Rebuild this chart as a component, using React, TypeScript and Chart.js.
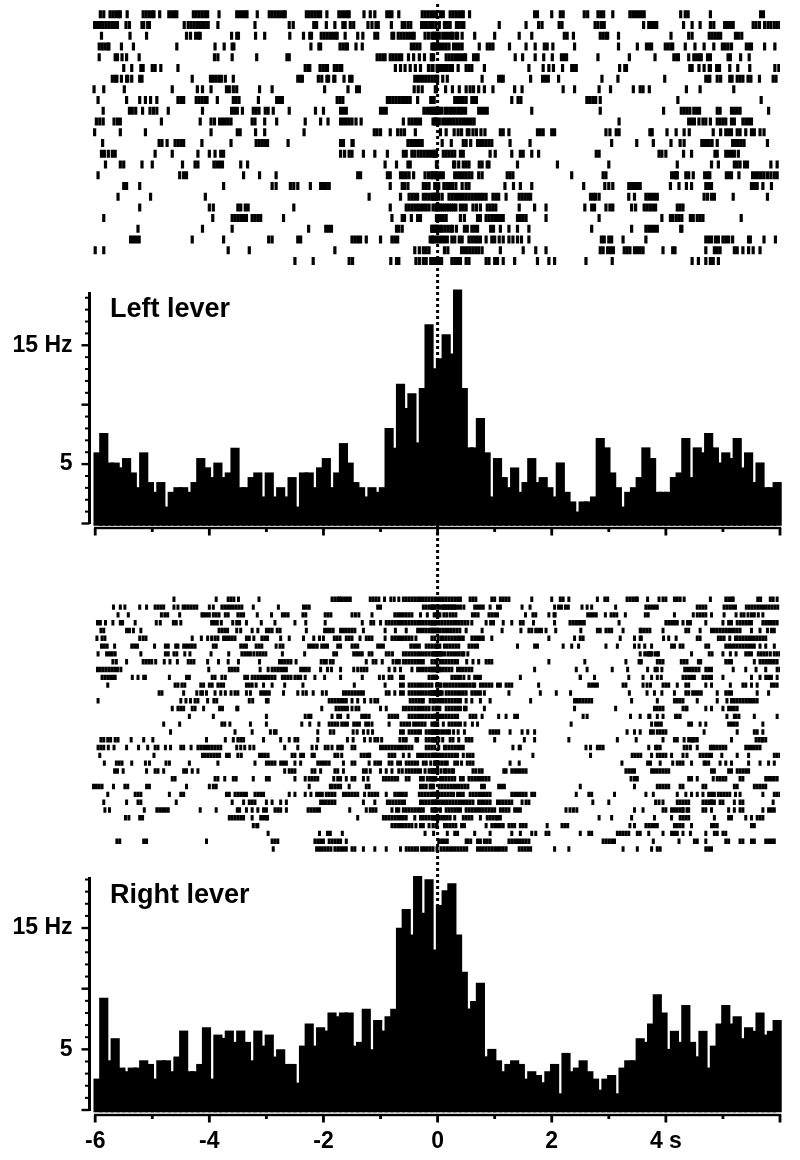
import React, { useEffect, useRef } from "react";
import { Chart, registerables } from "chart.js";

Chart.register(...registerables);

// Firing rate (Hz) in 0.1 s bins, from -6 s to +6 s
const leftRate = [
  5.96, 7.58, 5.1, 5.1, 4.7, 5.48, 4.27, 3.03, 5.96, 3.46, 2.64, 3.46, 1.4, 2.64, 3.03, 3.03, 2.64, 3.46, 5.48, 4.7,
  3.88, 5.1, 3.88, 4.27, 6.35, 3.03, 3.03, 3.88, 4.27, 2.25, 4.27, 2.25, 3.03, 2.25, 3.88, 1.4, 4.27, 4.27, 3.03, 4.7,
  5.48, 3.03, 4.27, 6.74, 5.1, 3.46, 3.03, 2.25, 3.03, 2.64, 3.03, 8.0, 6.35, 11.74, 9.69, 10.93, 6.8, 11.38, 16.74, 13.03,
  13.88, 15.9, 14.27, 19.66, 11.38, 6.38, 6.38, 8.85, 5.96, 2.25, 5.48, 3.88, 3.03, 4.69, 2.64, 3.46, 5.48, 3.46, 3.88, 3.03,
  2.25, 5.11, 2.64, 1.83, 0.98, 1.83, 1.83, 2.25, 7.16, 6.38, 4.27, 3.03, 1.4, 2.64, 3.03, 3.88, 6.38, 5.48, 2.64, 2.64,
  2.64, 3.88, 4.27, 7.16, 3.88, 6.38, 5.96, 7.58, 6.38, 5.11, 5.96, 5.48, 7.16, 4.69, 5.96, 3.46, 5.11, 3.03, 3.03, 3.46,
];
const rightRate = [
  2.56, 9.22, 4.07, 5.89, 3.47, 3.17, 3.47, 3.47, 4.07, 3.77, 2.56, 4.07, 4.07, 3.17, 4.38, 6.52, 3.17, 3.17, 3.77, 6.8,
  2.56, 6.19, 5.92, 6.52, 5.59, 6.52, 5.59, 4.07, 6.52, 5.28, 6.19, 4.38, 4.98, 3.77, 3.77, 2.23, 5.28, 7.1, 5.28, 6.8,
  6.52, 8.0, 7.7, 8.0, 8.0, 5.28, 5.59, 8.31, 4.98, 7.4, 6.52, 7.7, 8.31, 15.0, 16.54, 14.45, 19.27, 16.24, 19.0, 13.2,
  16.87, 18.08, 18.66, 14.45, 11.37, 8.34, 8.95, 10.46, 4.4, 5.01, 4.07, 3.17, 3.77, 4.07, 3.77, 2.56, 3.17, 2.86, 2.26, 3.17,
  3.77, 1.35, 4.68, 3.17, 3.47, 4.07, 3.17, 2.56, 1.65, 2.56, 2.86, 1.35, 3.47, 4.07, 4.07, 5.89, 5.59, 7.1, 9.52, 8.01,
  5.01, 6.5, 5.59, 8.62, 5.59, 4.4, 6.5, 3.47, 5.28, 7.1, 8.62, 7.1, 7.7, 5.89, 6.8, 6.5, 8.01, 6.19, 6.5, 7.4,
];

// Spike times per trial, in hundredths of a second relative to the lever press
const spikesLeft = [
  [-591,-585,-574,-569,-564,-559,-556,-544,-516,-511,-506,-501,-497,-487,-471,-466,-461,-457,-428,-423,-418,-413,-408,-403,-383,-352,-347,-342,-337,-334,-316,-295,-290,-285,-280,-275,-270,-267,-230,-225,-220,-215,-210,-205,-194,-173,-168,-163,-158,-155,-129,-118,-110,-89,-84,-80,-68,-27,-22,-17,-12,-7,-2,5,10,22,27,32,37,42,45,56,170,175,200,215,220,257,263,281,286,291,307,337,342,347,352,357,362,426,434,439,478,566,571],
  [-601,-596,-591,-586,-581,-576,-571,-566,-561,-546,-540,-518,-515,-508,-505,-444,-437,-432,-427,-422,-417,-412,-407,-402,-385,-320,-260,-253,-217,-212,-195,-180,-166,-162,-153,-147,-122,-115,-108,-104,-81,-62,-58,-52,-47,-28,-23,-18,-13,-8,-3,3,-10,12,17,22,33,38,43,46,108,155,177,183,213,218,276,281,287,292,361,370,375,380,384,431,446,460,478,484,503,508,513,518,553,558,564,573,579,584,590,595,600],
  [-589,-539,-510,-440,-433,-424,-419,-416,-361,-352,-349,-319,-303,-259,-235,-224,-221,-204,-199,-194,-189,-184,-179,-176,-162,-140,-131,-110,-105,-80,-77,-69,-64,-59,-54,-49,-44,-41,-22,-16,-7,-2,-10,-5,0,3,9,14,19,24,26,32,35,43,65,100,143,165,222,227,238,285,290,295,298,317,409,440,446,476,481,486,491,496,522,527,533],
  [-593,-588,-583,-578,-576,-554,-533,-457,-390,-374,-360,-357,-222,-208,-205,-171,-166,-161,-158,-143,-132,-46,-41,-36,-31,-7,-3,-10,-5,0,5,10,15,20,28,33,38,43,73,87,92,97,126,155,171,187,192,202,240,317,350,366,371,375,399,404,409,412,434,451,467,484,499,504,509,515,541,546,550,573,591],
  [-593,-565,-561,-553,-545,-523,-391,-385,-360,-317,-264,-260,-106,-101,-96,-92,-83,-78,-73,-68,-63,-51,-42,-32,-23,-11,-7,-10,15,20,25,30,35,40,45,49,63,68,71,136,149,171,186,201,217,222,226,281,336,381,414,419,422,440,449,454,459,462,473,478,509,513,531,546],
  [-550,-536,-520,-516,-500,-495,-485,-455,-232,-227,-224,-206,-201,-196,-193,-181,-176,-171,-168,-74,-65,-57,-48,-39,-30,-16,-10,-1,-8,2,7,12,17,22,26,36,50,55,60,82,160,185,195,203,219,235,240,243,319,328,331,442,446,458,467,476,478,489,494,512,526,547,591,598,600],
  [-570,-565,-562,-554,-545,-543,-536,-522,-518,-430,-398,-393,-388,-383,-379,-372,-358,-245,-240,-237,-209,-203,-194,-191,-182,-180,-164,-154,-150,-40,-35,-30,-25,-20,-15,-10,-5,-2,0,9,17,78,107,112,115,163,184,189,194,212,288,316,398,470,475,477,490,496,512,516,525,530,535,544,549,564,588,593],
  [-602,-585,-549,-465,-421,-412,-397,-370,-365,-358,-352,-312,-290,-198,-157,-142,-137,-41,-34,-27,-4,97,-2,14,26,38,50,57,63,72,82,135,148,220,240,283,303,343,355,360,371,436,460,519],
  [-595,-545,-522,-512,-503,-492,-455,-450,-445,-423,-418,-413,-408,-404,-386,-358,-353,-348,-314,-282,-277,-272,-176,-171,-166,-88,-83,-78,-73,-68,-63,-58,-53,-48,-35,-12,-8,-6,30,35,40,45,50,60,64,68,130,141,146,262,267,272,277,262,285,421,567,614],
  [-586,-540,-535,-529,-517,-504,-498,-492,-472,-412,-361,-356,-351,-342,-323,-318,-313,-302,-297,-288,-260,-214,-200,-170,-165,-160,-100,-95,-90,-24,-19,-14,-9,-4,-1,-10,-4,2,7,13,17,22,26,31,36,40,44,49,72,77,82,87,165,285,396,427,432,437,442,449,454,459,490,495,515,520,525,530,580],
  [-598,-592,-586,-567,-561,-556,-484,-416,-397,-391,-382,-377,-372,-367,-362,-325,-320,-303,-282,-232,-205,-192,-170,-165,-160,-155,-150,-143,-134,-60,-50,-45,-40,-35,-30,-5,-1,-8,-3,3,9,14,19,24,29,34,39,44,49,54,59,64,318,440,445,450,458,465,470,478,490,495,500,505,515,520,535,540,545,550],
  [-601,-556,-512,-397,-351,-346,-319,-303,-234,-111,-106,-100,-83,-70,-64,-58,-39,5,15,29,36,42,52,55,62,68,76,83,110,115,125,175,180,185,200,205,295,302,313,318,372,375,376,418,402,432,441,483,496,505,510,515,525,530,540,550,555,565,572],
  [-587,-488,-483,-474,-460,-455,-450,-445,-413,-362,-318,-313,-308,-303,-298,-262,-170,-165,-150,-148,-52,-47,-42,-37,-32,-27,8,24,45,50,58,70,75,80,85,90,95,127,162,305,349,378,409,425,432,463,466,471,476,481,490,517,522,527,532,537,578],
  [-589,-584,-577,-570,-565,-495,-465,-420,-400,-390,-380,-375,-170,-163,-155,-150,-130,-110,-88,-60,-55,-45,-40,-34,-29,-24,-19,-14,-9,-6,-4,-2,10,15,20,25,30,40,45,92,101,130,145,150,165,177,278,283,388,393,400,431,445,486,490,505,510,515,520,527],
  [-582,-556,-550,-518,-500,-447,-425,-420,-392,-387,-382,-377,-345,-333,-92,-72,-52,-48,-2,-1,28,30,37,45,50,55,73,78,87,90,140,210,300,420,480,492,520,525,530,538,543,584,595],
  [-595,-452,-445,-440,-340,-312,-283,-140,-135,-88,-83,-65,-60,-55,-50,-42,-22,-16,-10,-3,-10,-5,-0,5,10,30,35,40,45,50,55,60,72,78,122,127,132,235,420,417,290,295,410,415,419,435,440,448,468,473,477,506,511,515,528,552,557,562,567,572,578,584,590,595],
  [-550,-545,-522,-375,-290,-283,-258,-252,-245,-223,-205,-200,-195,-190,-83,-62,-58,-52,-25,-20,-15,-5,2,-1,11,16,21,26,32,43,50,55,118,133,145,165,256,293,300,307,335,340,345,350,355,408,423,436,445,470,475,480,550,555,560,570,585],
  [-560,-503,-407,-120,-65,-50,-45,-40,-35,-25,-20,-15,-10,-5,-2,-8,-3,2,8,20,25,30,35,40,45,50,55,60,65,70,75,80,85,97,102,107,120,143,148,153,158,163,268,273,277,283,335,345,365,370,375,380,385,467,473,480,485,518,578],
  [-522,-400,-393,-350,-345,-337,-332,-252,-83,-55,-50,-45,-40,-35,-30,-25,-20,-15,-2,-8,-3,2,4,8,12,16,20,24,28,32,40,45,50,62,68,75,87,92,97,102,143,170,190,258,270,275,295,302,307,340,347,362,367,372,377,382,420,425,430],
  [-585,-394,-360,-355,-350,-345,-340,-335,-325,-320,-315,-310,-270,-80,-62,-58,-46,-35,-30,-2,2,6,10,15,40,47,70,75,85,90,95,100,105,110,115,140,145,150,155,190,283,393,408,412,418,423,428,443,448,455,460,465,532],
  [-525,-412,-360,-226,-196,-191,-186,-72,-68,-62,-10,-5,-1,-10,-5,0,5,8,13,18,23,26,33,47,52,60,65,70,93,98,110,125,140,160,270,340,365,370,375,380,385,426,428],
  [-538,-533,-528,-523,-430,-375,-296,-290,-245,-240,-150,-145,-140,-135,-125,-100,-80,-75,-70,-7,-2,-13,-9,2,7,12,17,25,30,38,43,55,60,65,70,75,85,95,100,108,115,125,132,140,147,160,287,292,300,305,325,365,470,475,480,487,492,500,505,510,517,545,548,572,592],
  [-600,-585,-367,-330,-180,-40,-32,-25,-20,-15,12,18,42,47,52,57,62,67,72,78,110,150,172,190,285,290,298,303,308,327,332,337,345,350,355,360,395,412,416,470,485,490,495,520,525,535,545,553,565],
  [-250,-218,-155,-149,-82,-72,-68,-38,-32,-25,-20,-12,-7,-2,3,-11,-5,-3,7,5,25,30,35,40,50,55,85,90,100,105,115,135,175,195,205,260,306,446,457,470,478,483,492],
];

const spikesRight = [
  [-462,-388,-367,-362,-357,-349,-313,-185,-180,-175,-172,-168,-163,-158,-153,-118,-113,-108,-103,-93,-82,-76,-68,-60,-55,-50,-45,-40,-35,-30,-25,-20,-15,-10,-5,0,5,10,15,20,25,30,35,40,57,62,67,95,100,110,115,120,125,165,200,215,220,230,280,293,298,332,337,342,347,350,368,388,395,400,415,420,425,432,478,505,510,515,518,561,566,583,588,595],
  [-568,-556,-548,-522,-510,-495,-490,-485,-480,-462,-455,-446,-442,-437,-432,-427,-422,-400,-393,-378,-373,-368,-363,-358,-353,-348,-343,-323,-279,-235,-230,-225,-105,-100,-25,-20,-15,-10,-5,0,5,10,15,20,25,30,-10,-6,10,15,20,25,30,35,40,46,65,70,75,80,92,105,110,148,162,205,212,217,224,229,253,262,270,312,365,370,375,380,385,455,460,465,470,502,507,512,517,522,541,546,551,556,561,566,571,576,581,586,591,596],
  [-560,-542,-484,-478,-473,-452,-413,-410,-405,-400,-393,-388,-383,-372,-367,-350,-345,-340,-316,-291,-272,-267,-262,-236,-231,-197,-192,-187,-150,-144,-138,-115,-75,-70,-65,-60,-55,-50,-45,-30,-18,-6,-2,1,4,11,16,22,27,32,61,66,71,90,95,100,105,154,167,172,195,204,206,263,268,273,278,294,304,309,314,329,364,369,415,448,455,460,465,470,480,502,523,532,537,544,550,555,562,570],
  [-596,-591,-582,-569,-556,-552,-530,-493,-486,-463,-458,-450,-396,-391,-386,-379,-359,-352,-347,-335,-309,-285,-250,-231,-197,-132,-117,-112,-100,-90,-85,-80,-75,-70,-65,-60,-55,-50,-45,-40,-35,-30,-25,-20,-15,-10,-5,-2,-10,-5,3,8,13,18,23,28,33,38,43,48,53,60,85,93,98,115,130,145,150,168,205,232,237,242,247,252,257,318,400,405,410,415,420,430,438,443,470,500,510,515,525,530,535,540,545,550,570,575,580,585,590,595],
  [-590,-585,-545,-540,-533,-520,-383,-378,-373,-368,-352,-345,-325,-315,-300,-295,-290,-281,-276,-230,-198,-193,-188,-183,-170,-165,-160,-155,-150,-145,-130,-92,-74,-55,-35,-30,-25,-20,-15,-10,-5,0,-10,-6,-1,4,9,14,19,24,29,34,39,50,78,113,146,160,165,172,177,182,190,207,251,280,285,295,300,305,325,355,357,362,367,372,395,435,440,460,480,485,490,495,500,505,510,515,520,525,530,550,565,578,585,590],
  [-597,-588,-583,-522,-516,-511,-430,-414,-403,-396,-390,-385,-375,-370,-365,-360,-355,-335,-330,-322,-308,-303,-298,-275,-260,-235,-217,-207,-200,-181,-176,-171,-160,-155,-150,-136,-125,-120,-115,-92,-80,-75,-70,-65,-60,-55,-50,-45,-38,-10,-5,1,6,10,15,20,25,30,35,40,45,60,65,70,75,80,95,195,357,240,250,255,320,345,355,396,405,418,455,460,492,497,502,512,522,525,530,535,540,545,550,555,560,565,570,575],
  [-589,-584,-579,-566,-536,-531,-526,-496,-477,-472,-459,-455,-445,-440,-435,-430,-425,-393,-388,-345,-340,-335,-318,-313,-308,-283,-276,-271,-226,-221,-216,-211,-203,-198,-193,-175,-170,-150,-145,-140,-105,-100,-95,-47,-42,-37,-32,-20,-15,-10,-5,-2,0,4,12,17,22,27,32,37,55,60,65,70,140,170,175,220,235,247,295,315,345,353,363,375,410,415,425,430,470,475,505,510,515,520,525,530,535,540,545,550,555,565,575,590],
  [-595,-580,-575,-570,-565,-520,-477,-472,-462,-457,-443,-434,-397,-366,-343,-338,-333,-328,-322,-316,-311,-306,-301,-272,-233,-182,-177,-147,-142,-137,-132,-115,-120,-90,-85,-79,-60,-55,-50,-45,-40,-35,-30,-25,-20,-15,-10,-5,-2,-7,0,5,2,7,12,18,23,28,33,38,43,46,53,355,363,368,373,375,381,387,-2,500,445,370,385,476,481,513,523,540,545,550,562,567,572,577,583,590,595,600],
  [-569,-563,-545,-516,-511,-506,-501,-494,-479,-469,-456,-437,-432,-427,-403,-384,-367,-349,-312,-277,-272,-267,-262,-257,-248,-204,-199,-195,-188,-183,-125,-113,-108,-97,-78,-72,-67,-60,-55,-50,-45,-40,-35,-30,-25,-10,-5,-1,5,10,15,20,25,30,35,51,62,72,85,90,95,195,258,330,353,357,385,390,395,427,432,437,457,461,505,510,515,555,565,570,575,580,585,590,595],
  [-596,-591,-586,-581,-576,-571,-566,-561,-555,-401,-365,-360,-355,-350,-311,-297,-290,-285,-280,-275,-270,-265,-240,-235,-230,-225,-205,-193,-186,-170,-147,-140,-134,-129,-124,-85,-75,-65,-45,-35,-30,-25,-20,-15,-10,-5,-10,-5,0,3,5,10,15,20,25,35,40,45,50,55,60,170,243,262,306,333,368,381,385,393,433,438,443,448,453,458,470,475,480,518,540,558,575,595,600],
  [-588,-583,-578,-573,-568,-565,-535,-525,-515,-512,-470,-440,-435,-395,-390,-378,-372,-338,-333,-325,-320,-315,-310,-305,-300,-295,-290,-285,-272,-267,-262,-257,-250,-245,-240,-232,-215,-198,-170,-132,-102,-95,-85,-80,-65,-60,-15,-10,-5,-2,-8,-2,25,30,35,40,46,55,65,70,75,145,250,250,275,335,360,375,385,392,430,435,440,445,450,465,470,475,480,500,550,565,575,580,585,595],
  [-578,-460,-455,-448,-443,-415,-410,-400,-395,-385,-380,-375,-335,-330,-325,-318,-305,-290,-268,-236,-146,-92,-65,-60,-50,-45,-40,-35,-30,-25,-20,-15,-10,-2,3,6,12,17,22,27,32,37,42,47,52,57,62,65,75,80,85,90,95,105,110,120,125,130,177,265,270,275,280,325,330,360,367,373,395,400,405,420,435,440,470,480,513,535,540,550,560,585,590,595],
  [-488,-483,-445,-422,-415,-412,-405,-390,-380,-372,-362,-355,-350,-335,-328,-310,-305,-300,-295,-270,-245,-236,-230,-218,-202,-195,-165,-160,-155,-150,-145,-140,-135,-130,-90,-85,-75,-65,-60,-50,-45,-40,-35,-30,-25,-20,-15,-10,-5,-2,-10,-5,0,3,5,8,15,20,25,30,35,40,45,50,60,65,70,75,82,125,180,208,233,336,367,380,393,415,435,440,447,452,457,462,490,505,510,515,560,580],
  [-595,-450,-441,-433,-425,-420,-403,-392,-387,-330,-324,-300,-297,-190,-185,-180,-175,-170,-165,-160,-150,-140,-128,-117,-110,-105,-48,-43,-38,-33,-28,-25,-13,-8,-5,0,5,10,15,20,25,30,35,40,50,60,75,92,163,240,245,250,255,260,265,270,340,385,415,420,425,430,455,490,507,515,520,525,530,535,540,545,550,555,560],
  [-465,-455,-450,-445,-430,-425,-410,-382,-377,-352,-350,-203,-178,-173,-168,-163,-158,-150,-143,-138,-100,-90,-60,-55,-50,-45,-40,-35,-30,-25,-20,-15,-8,-3,0,4,15,20,25,30,35,40,47,50,82,240,312,380,385,390,395,430,435,437,470,480,500,510,515,520,525],
  [-435,-393,-300,-232,-226,-222,-185,-175,-170,-157,-133,-128,-125,-120,-85,-80,-75,-70,-50,-45,-40,-35,-30,-25,-20,-15,-10,-5,-2,-5,0,5,10,15,20,25,30,35,57,62,67,78,107,120,135,140,255,262,338,355,372,370,385,395,417,420,425,507,520,523,528,555,595],
  [-480,-452,-378,-373,-364,-328,-300,-238,-224,-208,-190,-185,-180,-175,-168,-163,-158,-147,-142,-137,-126,-121,-115,-85,-64,-59,-54,-49,-42,-37,-32,-27,-22,-5,0,-10,-5,0,10,20,25,30,35,40,48,61,70,234,375,382,387,392,440,445,460,470,510,515,520,525,570],
  [-468,-355,-325,-293,-286,-283,-210,-188,-182,-148,-141,-130,-122,-114,-65,-60,-50,-45,-40,-35,-30,-20,-15,-10,-5,-2,-10,-5,0,2,7,12,17,21,28,36,47,92,97,102,107,127,148,158,170,332,345,355,373,378,385,390,395,400,467,525,555,560,570],
  [-590,-585,-578,-573,-565,-560,-537,-515,-499,-405,-372,-358,-350,-345,-340,-305,-275,-260,-250,-245,-210,-158,-148,-128,-118,-110,-105,-98,-66,-60,-55,-38,-35,-20,-15,-10,-5,-8,-3,2,9,22,27,37,50,55,60,100,152,170,230,315,348,395,415,420,432,440,445,447,450,455,515,558,563,568,570,575],
  [-595,-590,-585,-577,-567,-545,-524,-508,-495,-490,-477,-468,-450,-445,-432,-420,-415,-410,-405,-400,-395,-390,-385,-380,-352,-345,-338,-329,-322,-268,-245,-220,-212,-197,-192,-185,-175,-170,-167,-150,-145,-100,-95,-90,-85,-80,-75,-70,-65,-60,-55,-50,-45,-20,-15,-5,-10,2,12,15,20,25,30,35,40,45,132,145,143,260,268,280,285,290,370,382,385,390,432,437,443,455,478,482,485,490,495,500,505,540,545,550,555,560,565],
  [-592,-497,-412,-407,-402,-397,-392,-387,-382,-370,-365,-350,-344,-312,-307,-302,-297,-255,-250,-240,-235,-220,-216,-180,-175,-168,-134,-129,-124,-119,-120,-85,-80,-75,-60,-50,-35,-30,-25,-20,-15,-10,-5,-2,-8,-3,2,5,10,15,20,25,30,35,45,52,57,62,167,268,341,346,351,356,375,385,390,395,400,410,430,437,460,465,470,475,480,498,525,545,590,595,600],
  [-584,-563,-558,-553,-536,-512,-505,-476,-470,-435,-385,-320,-300,-295,-290,-285,-275,-270,-265,-250,-240,-210,-205,-200,-195,-190,-165,-150,-145,-120,-110,-105,-100,-85,-80,-70,-65,-55,-50,-45,-40,-35,-25,-20,-12,-5,-2,-5,-2,3,8,13,17,30,35,42,52,57,62,127,143,323,368,373,390,412,420,425,430,445,467,470,475,495,505,515,545,565,580,590],
  [-566,-561,-551,-510,-495,-490,-480,-445,-440,-430,-420,-268,-260,-255,-250,-220,-215,-205,-180,-175,-165,-130,-125,-118,-100,-90,-80,-68,-62,-55,-50,-45,-40,-35,-30,-22,-15,-10,-5,-2,-10,-6,0,6,12,15,20,25,28,62,67,73,78,116,120,130,135,140,145,150,155,330,335,340,345,375,380,385,390,395,400,405,480,485,510,515,525,530,535,540,545],
  [-465,-460,-390,-385,-373,-358,-353,-323,-300,-295,-250,-232,-225,-220,-215,-210,-182,-175,-170,-160,-150,-145,-130,-122,-95,-90,-85,-80,-75,-70,-55,-50,-30,-25,-18,-13,-8,-3,-10,-6,5,10,15,20,25,30,40,45,55,60,65,70,75,80,85,90,339,345,350,440,445,455,483,490,495,500,505,530,535,575,580,585,590,595],
  [-603,-598,-593,-588,-568,-548,-543,-510,-505,-440,-400,-393,-388,-225,-188,-185,-180,-175,-170,-155,-125,-120,-30,-25,-20,-12,-7,-13,-8,3,8,13,18,23,28,33,38,43,48,53,77,82,107,112,117,250,345,385,390,395,400,405,425,430,465,470,520,525,555,560,565,570,575],
  [-578,-530,-525,-520,-470,-450,-445,-370,-365,-355,-350,-345,-340,-335,-320,-315,-310,-305,-260,-250,-232,-222,-212,-207,-202,-195,-190,-185,-180,-165,-160,-155,-150,-145,-140,-128,-120,-115,-110,-105,-90,-75,-70,-65,-60,-55,-32,-27,-22,-17,-12,-7,-2,-8,-3,3,8,13,18,23,28,35,40,45,57,62,67,72,77,82,87,92,130,135,140,145,150,155,165,170,243,265,270,310,365,378,420,435,445,455,465,475,480,485,492,497,502,507,512,522,530,570,590,595,600],
  [-585,-545,-525,-520,-458,-360,-340,-330,-325,-320,-300,-290,-275,-265,-205,-200,-195,-190,-185,-180,-130,-110,-88,-83,-78,-73,-68,-63,-58,-30,-25,-20,-15,-10,-5,-2,-8,-3,2,7,12,17,22,27,32,37,42,47,52,57,62,72,77,82,87,92,105,110,115,120,125,130,148,155,160,272,382,388,300,395,420,425,430,435,440,465,470,475,480,485,495,480,500,520,530,535,588],
  [-583,-575,-514,-492,-487,-482,-477,-472,-416,-388,-351,-347,-335,-325,-315,-305,-300,-285,-280,-275,-265,-227,-222,-217,-212,-207,-154,-125,-118,-113,-108,-80,-72,-68,-60,-55,-50,-45,-40,-35,-30,-25,-5,-10,-5,-1,5,15,20,25,30,35,40,50,55,60,65,70,75,80,85,90,95,100,110,115,120,125,135,140,145,225,232,238,244,345,360,395,400,410,415,420,425,430,430,437,440,465,470,480,510,520,530,535,570,580,585,590],
  [-547,-541,-522,-517,-365,-360,-355,-350,-345,-340,-325,-310,-305,-300,-298,-140,-95,-90,-85,-80,-75,-70,-65,-60,-55,-40,-30,-25,-20,-15,-10,-5,-2,-8,-3,2,7,12,17,22,30,45,50,55,60,75,87,92,97,102,105,110,283,305,340,380,410,425,430,435,440,485,510,515,540,550,560,565,570],
  [-323,-317,-315,-80,-75,-70,-65,-60,-55,-50,-45,-38,-30,-25,-15,-8,-3,-1,-2,12,17,22,27,32,42,47,85,95,100,105,110,115,125,130,135,145,150,155,192,218,223,228,337,345,365,370,375,380,385,415,420,425,430,445,480,485,490,550,555],
  [-297,-207,-193,-188,-167,-22,-7,17,30,35,65,92,130,145,172,165,190,195,250,265,270,315,320,325,330,335,350,355,370,395,410,415,420,430,443,470,485,490,500,505],
  [-562,-557,-515,-510,-405,-290,-285,-280,-215,-210,-205,-200,-190,-185,-180,-175,-170,-160,2,7,12,17,50,53,58,70,75,82,87,92,125,130,135,140,145,150,155,160,290,295,300,305,310,378,423,450,455,470,505,510,530,535,550,555,575,580,585,590],
  [-288,-212,-207,-202,-197,-192,-187,-180,-175,-170,-165,-160,-150,-145,-130,-110,-90,-65,-55,-50,-45,-40,-35,-28,-23,-18,-13,-8,-1,6,11,16,21,26,31,36,41,46,51,70,75,80,85,90,95,100,105,110,115,120,143,148,153,158,163,205,230,325,350,375,385,390,470,475,480],
];

const xMajor = [-6, -4, -2, 0, 2, 4];
const xTicks = [-6, -5, -4, -3, -2, -1, 0, 1, 2, 3, 4, 5, 6];
const yTicks = [0, 1, 2, 3, 4, 5, 6, 7, 8, 9, 10, 11, 12, 13, 14, 15, 16, 17, 18, 19];
const panelNames = ["Left lever", "Right lever"];

const FONT = "'Liberation Sans', Arial, sans-serif";
const binCentres = leftRate.map((_, i) => -5.95 + i * 0.1);

function tickSet(s: any, values: number[]) {
  s.ticks = values.map((value) => ({ value }));
}

function clearPadding(s: any) {
  s.paddingTop = 0;
  s.paddingBottom = 0;
  s.paddingLeft = 0;
  s.paddingRight = 0;
}

function axesPlugin(title: string, textBaseline: number, axisGap: number) {
  return {
    id: "panelAxes",
    afterDraw(chart: any) {
      const { ctx, chartArea } = chart;
      const x = chart.scales.x;
      const y = chart.scales.y;
      ctx.save();
      ctx.fillStyle = "#000";
      for (const t of y.ticks) {
        const py = y.getPixelForValue(t.value);
        const major = t.value % 5 === 0;
        ctx.fillRect(chartArea.left - (major ? 8 : 4.5), py - (major ? 1.2 : 1), major ? 8 : 4.5, major ? 2.4 : 2);
      }
      const ay = chartArea.bottom + axisGap;
      ctx.fillRect(x.getPixelForValue(-6) - 1.2, ay - 1.2, x.getPixelForValue(6) - x.getPixelForValue(-6) + 2.4, 2.4);
      for (const t of x.ticks) {
        const px = x.getPixelForValue(t.value);
        const major = t.value % 2 === 0;
        ctx.fillRect(px - 1.4, ay, 2.8, major ? 7.5 : 4);
      }
      ctx.font = `bold 27px ${FONT}`;
      ctx.textAlign = "left";
      ctx.textBaseline = "alphabetic";
      ctx.fillText(title, 110, textBaseline);
      ctx.restore();
    },
  };
}

function makeHistogram(canvas: HTMLCanvasElement, rate: number[], cfg: any) {
  return new Chart(canvas, {
    type: "bar",
    data: {
      datasets: [
        {
          data: rate.map((v, i) => ({ x: binCentres[i], y: v })),
          backgroundColor: "#000",
          barThickness: 8.5,
          grouped: false,
          base: -0.16,
          clip: false,
        } as any,
      ],
    },
    options: {
      animation: false,
      responsive: false,
      events: [],
      layout: { autoPadding: false, padding: { left: 0, right: 20, top: cfg.top, bottom: 0 } },
      plugins: { legend: { display: false }, tooltip: { enabled: false } },
      scales: {
        x: {
          type: "linear",
          offset: false,
          min: -6.1,
          max: 6,
          grid: { display: false, drawTicks: false },
          border: { display: false },
          afterBuildTicks: (s: any) => tickSet(s, xTicks),
          afterFit: (s: any) => {
            s.height = cfg.axisHeight;
            clearPadding(s);
          },
          ticks: {
            display: cfg.labels,
            autoSkip: false,
            maxRotation: 0,
            padding: 18,
            color: "#000",
            font: { family: FONT, size: 23, weight: "bold" },
            callback: (v: any) => (xMajor.includes(v) ? (v === 4 ? "4 s" : String(v)) : ""),
          },
        },
        y: {
          type: "linear",
          min: 0,
          max: cfg.max,
          grid: { display: false, drawTicks: false },
          border: { display: true, color: "#000", width: 3 },
          afterBuildTicks: (s: any) => tickSet(s, yTicks),
          afterFit: (s: any) => {
            s.width = 89.5;
            clearPadding(s);
          },
          ticks: {
            autoSkip: false,
            padding: 17,
            color: "#000",
            font: { family: FONT, size: 23, weight: "bold" },
            callback: (v: any) => (v === 15 ? "15 Hz" : v === 5 ? "5" : ""),
          },
        },
      },
    } as any,
    plugins: [axesPlugin(cfg.title, cfg.baseline, cfg.axisGap)],
  });
}

function makeRaster(canvas: HTMLCanvasElement, rows: number[][], cfg: any) {
  return new Chart(canvas, {
    type: "scatter",
    data: {
      datasets: [
        {
          data: rows.flatMap((row, r) => row.map((cs) => ({ x: cs / 100, y: r }))),
          pointStyle: "line",
          rotation: 90,
          pointRadius: cfg.radius,
          pointBorderWidth: cfg.width,
          pointBorderColor: "#000",
          pointBackgroundColor: "#000",
        } as any,
      ],
    },
    options: {
      animation: false,
      responsive: false,
      events: [],
      layout: { autoPadding: false, padding: { left: 89.5, right: 20, top: cfg.top, bottom: cfg.bottom } },
      plugins: { legend: { display: false }, tooltip: { enabled: false } },
      scales: {
        x: { type: "linear", min: -6.1, max: 6, display: false },
        y: { type: "linear", min: -0.5, max: rows.length - 0.5, reverse: true, display: false },
      },
    } as any,
  });
}

function makeEventLine(canvas: HTMLCanvasElement) {
  return new Chart(canvas, {
    type: "scatter",
    data: {
      datasets: [
        {
          data: [
            { x: 0, y: 1 },
            { x: 0, y: 0 },
          ],
          showLine: true,
          borderColor: "#000",
          borderWidth: 3,
          borderDash: [3, 3],
          pointRadius: 0,
        } as any,
      ],
    },
    options: {
      animation: false,
      responsive: false,
      events: [],
      layout: { autoPadding: false, padding: { left: 89.5, right: 20, top: 4, bottom: 255 } },
      plugins: { legend: { display: false }, tooltip: { enabled: false } },
      scales: {
        x: { type: "linear", min: -6.1, max: 6, display: false },
        y: { type: "linear", min: 0, max: 1, display: false },
      },
    } as any,
  });
}

const panels = [
  { key: "r1", top: 0, height: 280 },
  { key: "h1", top: 280, height: 270 },
  { key: "r2", top: 550, height: 315 },
  { key: "h2", top: 865, height: 295 },
  { key: "ev", top: 0, height: 1160 },
];

export default function App() {
  const refs = useRef<Record<string, HTMLCanvasElement | null>>({});
  useEffect(() => {
    const c = refs.current as Record<string, HTMLCanvasElement>;
    const charts = [
      makeRaster(c.r1, spikesLeft, { radius: 4, width: 3.2, top: 8.9, bottom: 13.6 }),
      makeHistogram(c.h1, leftRate, { top: 13, axisHeight: 26.5, labels: false, max: 19.4, title: panelNames[0], baseline: 36.7, axisGap: 4.5 }),
      makeRaster(c.r2, spikesRight, { radius: 2.7, width: 3, top: 45.4, bottom: 12.1 }),
      makeHistogram(c.h2, rightRate, { top: 13.3, axisHeight: 50, labels: true, max: 19.1, title: panelNames[1], baseline: 38, axisGap: 5 }),
      makeEventLine(c.ev),
    ];
    return () => charts.forEach((ch) => ch.destroy());
  }, []);
  return (
    <div style={{ position: "absolute", left: 0, top: 0, width: 800, height: 1160, background: "#fff", overflow: "hidden" }}>
      {panels.map((p) => (
        <canvas
          key={p.key}
          ref={(el) => {
            refs.current[p.key] = el;
          }}
          width={800}
          height={p.height}
          style={{ position: "absolute", left: 0, top: p.top, width: 800, height: p.height }}
        />
      ))}
    </div>
  );
}
